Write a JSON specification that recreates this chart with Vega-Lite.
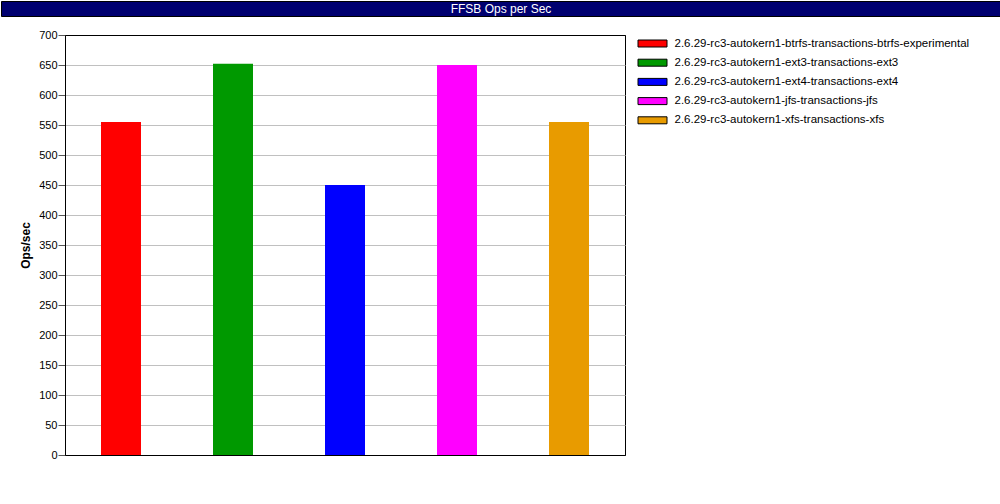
{
  "$schema": "https://vega.github.io/schema/vega-lite/v6.json",
  "padding": 0,
  "background": "white",
  "config": {
    "font": "Liberation Sans",
    "view": {"stroke": null},
    "concat": {"spacing": 0}
  },
  "spacing": 11,
  "resolve": {"scale": {"color": "independent"}, "legend": {"color": "independent"}},
  "vconcat": [
    {
      "width": 1000,
      "height": 15,
      "view": {"fill": "#000070", "stroke": "#000000"},
      "data": {"values": [{"t": "FFSB Ops per Sec"}]},
      "mark": {
        "type": "text",
        "color": "white",
        "font": "Liberation Sans",
        "fontSize": 12,
        "align": "center",
        "baseline": "middle"
      },
      "encoding": {"text": {"field": "t", "type": "nominal"}}
    },
    {
      "spacing": 0,
      "resolve": {"scale": {"color": "independent"}, "legend": {"color": "independent"}},
      "hconcat": [
        {
          "width": 18,
          "height": 1,
          "data": {"values": []},
          "mark": "rect"
        },
        {
          "width": 560,
          "height": 420,
          "view": {"stroke": "#000000", "strokeWidth": 1},
          "data": {
            "values": [
              {"config": "2.6.29-rc3-autokern1-btrfs-transactions-btrfs-experimental", "ops": 555},
              {"config": "2.6.29-rc3-autokern1-ext3-transactions-ext3", "ops": 652},
              {"config": "2.6.29-rc3-autokern1-ext4-transactions-ext4", "ops": 450},
              {"config": "2.6.29-rc3-autokern1-jfs-transactions-jfs", "ops": 650},
              {"config": "2.6.29-rc3-autokern1-xfs-transactions-xfs", "ops": 555}
            ]
          },
          "mark": {"type": "bar", "size": 40},
          "encoding": {
            "x": {
              "field": "config",
              "type": "nominal",
              "sort": null,
              "scale": {"paddingInner": 0, "paddingOuter": 0},
              "axis": null
            },
            "y": {
              "field": "ops",
              "type": "quantitative",
              "scale": {"domain": [0, 700], "nice": false},
              "axis": {
                "values": [0, 50, 100, 150, 200, 250, 300, 350, 400, 450, 500, 550, 600, 650, 700],
                "title": "Ops/sec",
                "titleFont": "Liberation Sans",
                "titleFontSize": 12,
                "titleFontWeight": "bold",
                "titleColor": "#000000",
                "titlePadding": 6,
                "labelFont": "Liberation Sans",
                "labelFontSize": 11,
                "labelColor": "#000000",
                "labelPadding": 1,
                "tickSize": 7,
                "tickColor": "#555555",
                "domainColor": "#000000",
                "grid": true,
                "gridColor": {
                  "condition": {"test": "datum.value === 0 || datum.value === 700", "value": "#000000"},
                  "value": "#c0c0c0"
                },
                "gridOpacity": 1
              }
            },
            "color": {
              "field": "config",
              "type": "nominal",
              "sort": null,
              "scale": {"range": ["#ff0000", "#009900", "#0000ff", "#ff00ff", "#e89b00"]},
              "legend": {
                "title": null,
                "orient": "right",
                "offset": 18.5,
                "symbolType": "M-1.8125,-0.4375H1.8125V0.4375H-1.8125Z",
                "symbolSize": 256,
                "symbolStrokeColor": "#000000",
                "symbolStrokeWidth": 1,
                "symbolOpacity": 1,
                "labelFont": "Liberation Sans",
                "labelFontSize": 11.5,
                "labelColor": "#000000",
                "labelOffset": 13.5,
                "labelLimit": 500,
                "rowPadding": 5.2,
                "padding": 0
              }
            }
          }
        }
      ]
    }
  ]
}
